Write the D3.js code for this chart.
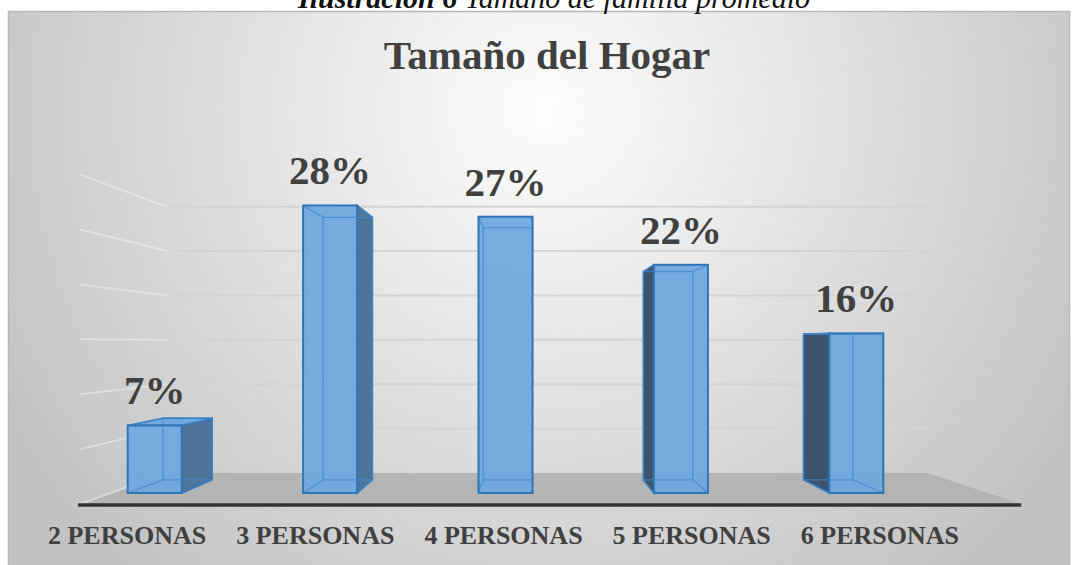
<!DOCTYPE html>
<html>
<head>
<meta charset="utf-8">
<script src="https://cdn.jsdelivr.net/npm/d3@7"></script>
<style>
  body { margin: 0; background: #fff; }
  svg { display: block; }
  text { font-family: "Liberation Serif", "Times New Roman", serif; }
</style>
</head>
<body>
<svg width="1077" height="565"></svg>
<script>
'use strict';

// the data
var categories = ['2 PERSONAS', '3 PERSONAS', '4 PERSONAS', '5 PERSONAS', '6 PERSONAS'];
var shares = [6.6, 28.1, 27.0, 22.3, 15.6]; // percent of households
var yTicks = [0, 5, 10, 15, 20, 25, 30];

var W = 1077, H = 565;
var svg = d3.select('svg');

// one-point perspective: everything is laid out in the plane of the bar fronts,
// then pushed toward the vanishing point by a depth factor
var VP = [533, 342];
var K_BAR_BACK = 0.913, K_WALL = 0.8675, K_FRONT = 1.073;
var WALL_X = [111, 988];

function P(px, py, k) {
  return [VP[0] + k * (px - VP[0]), VP[1] + k * (py - VP[1])];
}

var x = d3.scaleBand().domain(categories).range([67, 944])
  .paddingInner(0.692).paddingOuter(0.346);
var y = d3.scaleLinear().domain([0, 30]).range([493, 186]);

// background
var defs = svg.append('defs');
var bg = defs.append('radialGradient').attr('id', 'bg')
  .attr('gradientUnits', 'userSpaceOnUse')
  .attr('cx', 545).attr('cy', 110).attr('r', 620);
bg.append('stop').attr('offset', 0).attr('stop-color', '#fdfdfd');
bg.append('stop').attr('offset', 1).attr('stop-color', '#c2c2c2');

svg.append('rect')
  .attr('x', 8.5).attr('y', 11.5).attr('width', 1061).attr('height', 570)
  .attr('fill', 'url(#bg)').attr('stroke', '#b8b8b8').attr('stroke-width', 1.5);

// caption above the chart (the reference shows it cut by the page top)
var cap = svg.append('text').attr('x', 554).attr('y', 8)
  .attr('text-anchor', 'middle').attr('font-size', 30).attr('font-style', 'italic')
  .attr('fill', '#111');
cap.append('tspan').attr('font-weight', 'bold').text('Ilustración 6');
cap.append('tspan').text(' Tamaño de familia promedio');

// title
svg.append('text').attr('x', 547).attr('y', 69)
  .attr('text-anchor', 'middle').attr('font-size', 41).attr('font-weight', 'bold')
  .attr('fill', '#404040').text('Tamaño del Hogar');

// back wall gridlines
svg.append('g').selectAll('line').data(yTicks.slice(1)).enter().append('line')
  .each(function (t) {
    var a = P(WALL_X[0], y(t), K_WALL), b = P(WALL_X[1], y(t), K_WALL);
    d3.select(this).attr('x1', a[0]).attr('y1', a[1]).attr('x2', b[0]).attr('y2', b[1]);
  })
  .attr('stroke', '#d3d3d3').attr('stroke-width', 2);

// floor
var floorPts = [
  P(WALL_X[0], y(0), K_WALL), P(WALL_X[1], y(0), K_WALL),
  P(WALL_X[1], y(0), K_FRONT), P(WALL_X[0], y(0), K_FRONT)
];
svg.append('polygon').attr('points', floorPts.map(function (p) { return p.join(','); }).join(' '))
  .attr('fill', '#b4b4b4');

// left wall gridlines
svg.append('g').selectAll('line').data(yTicks).enter().append('line')
  .each(function (t) {
    var a = P(WALL_X[0], y(t), K_WALL), b = P(WALL_X[0], y(t), K_FRONT);
    d3.select(this).attr('x1', a[0]).attr('y1', a[1]).attr('x2', b[0]).attr('y2', b[1]);
  })
  .attr('stroke', '#eeeeee').attr('stroke-width', 2).attr('opacity', 0.55);

// axis line along the floor front
var a0 = P(WALL_X[0] - 2, y(0), K_FRONT), a1 = P(WALL_X[1], y(0), K_FRONT);
svg.append('line').attr('x1', a0[0]).attr('y1', a0[1] + 1).attr('x2', a1[0]).attr('y2', a1[1] + 1)
  .attr('stroke', '#333').attr('stroke-width', 3.5);

// bars
var FRONT = '#6fa8de', SIDE_R = '#4f7499', SIDE_L = '#3c536b', EDGE = '#2e75b6';
function pts(list) { return list.map(function (p) { return p.join(','); }).join(' '); }

var bars = svg.append('g').selectAll('g').data(shares).enter().append('g');
bars.each(function (v, i) {
  var g = d3.select(this);
  var x0 = x(categories[i]), x1 = x0 + x.bandwidth();
  var yt = y(v), yb = y(0);
  var FTL = [x0, yt], FTR = [x1, yt], FBR = [x1, yb], FBL = [x0, yb];
  var BTL = P(x0, yt, K_BAR_BACK), BTR = P(x1, yt, K_BAR_BACK),
      BBR = P(x1, yb, K_BAR_BACK), BBL = P(x0, yb, K_BAR_BACK);

  if (BTR[0] > x1 + 0.5) {
    g.append('polygon').attr('points', pts([FTR, BTR, BBR, FBR]))
      .attr('fill', SIDE_R).attr('stroke', EDGE).attr('stroke-width', 1.5);
  }
  if (BTL[0] < x0 - 0.5) {
    g.append('polygon').attr('points', pts([BTL, FTL, FBL, BBL]))
      .attr('fill', SIDE_L).attr('stroke', EDGE).attr('stroke-width', 1.5);
  }
  if (BTL[1] < yt - 0.5) {
    g.append('polygon').attr('points', pts([FTL, FTR, BTR, BTL]))
      .attr('fill', FRONT).attr('stroke', EDGE).attr('stroke-width', 1.5);
  }
  g.append('rect').attr('x', x0).attr('y', yt).attr('width', x1 - x0).attr('height', yb - yt)
    .attr('fill', FRONT).attr('fill-opacity', 0.95);

  // edges of the back seen through the glass
  var inner = [[BTL, BTR], [BTR, BBR], [BBR, BBL], [BBL, BTL],
               [FTL, BTL], [FTR, BTR], [FBR, BBR], [FBL, BBL]];
  g.selectAll('line').data(inner).enter().append('line')
    .attr('x1', function (s) { return s[0][0]; }).attr('y1', function (s) { return s[0][1]; })
    .attr('x2', function (s) { return s[1][0]; }).attr('y2', function (s) { return s[1][1]; })
    .attr('stroke', '#3f8ad2').attr('stroke-width', 1.3).attr('opacity', 0.75);

  g.append('rect').attr('x', x0).attr('y', yt).attr('width', x1 - x0).attr('height', yb - yt)
    .attr('fill', 'none').attr('stroke', EDGE).attr('stroke-width', 2);
});

// data labels
svg.append('g').selectAll('text').data(shares).enter().append('text')
  .attr('x', function (v, i) { return x(categories[i]) + x.bandwidth() / 2; })
  .attr('y', function (v) { return y(v) - 21; })
  .attr('text-anchor', 'middle').attr('font-size', 41).attr('font-weight', 'bold')
  .attr('fill', '#404040')
  .text(function (v) { return d3.format('.0f')(v) + '%'; });

// category labels, centred under each bar at the floor front
svg.append('g').selectAll('text').data(categories).enter().append('text')
  .attr('x', function (c) { return P(x(c) + x.bandwidth() / 2, y(0), K_FRONT)[0]; })
  .attr('y', 544)
  .attr('text-anchor', 'middle').attr('font-size', 26).attr('font-weight', 'bold')
  .attr('fill', '#404040')
  .text(function (c) { return c; });
</script>
</body>
</html>
